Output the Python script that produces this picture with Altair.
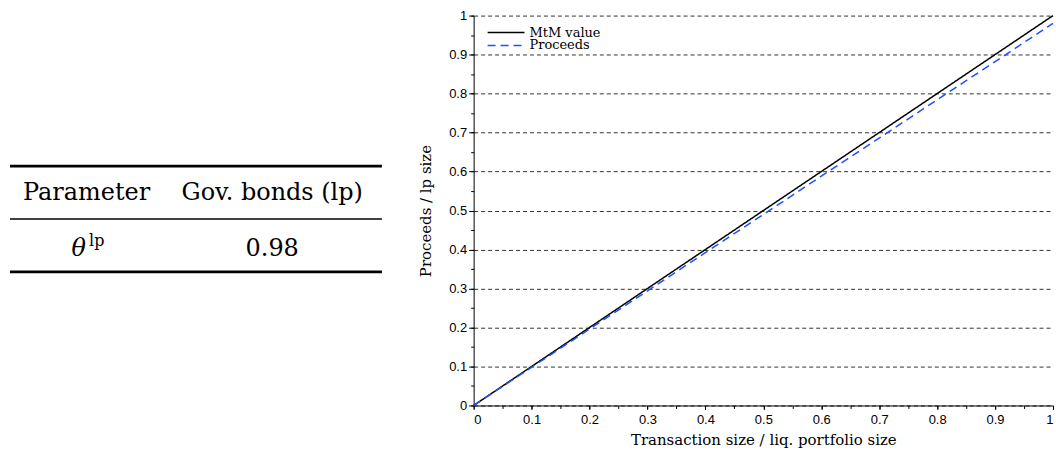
import altair as alt
import pandas as pd

# ---- data ----
x_vals = [0.0, 0.2, 0.4, 0.6, 0.8, 1.0]
mtm_vals = [0.0, 0.2, 0.4, 0.6, 0.8, 1.0]
proceeds_vals = [0.0, 0.196, 0.392, 0.588, 0.784, 0.98]
series_names = ["MtM value", "Proceeds"]

table_header = ["Parameter", "Gov. bonds (lp)"]
table_row = ["θ", "0.98"]
table_sup = "lp"

major_ticks = [round(i * 0.1, 2) for i in range(11)]
minor_ticks = [round(i * 0.05, 2) for i in range(21)]

rows = []
for xv, m, p in zip(x_vals, mtm_vals, proceeds_vals):
    rows.append({"x": xv, "y": m, "series": series_names[0]})
    rows.append({"x": xv, "y": p, "series": series_names[1]})
df = pd.DataFrame(rows)

# ---- table ----
cells = pd.DataFrame({
    "col": [0.206, 0.705, 0.185, 0.705],
    "row": [0.5, 0.5, 1.57, 1.57],
    "text": table_header + table_row,
})
rules = pd.DataFrame({"row": [0, 1, 2], "x0": [0, 0, 0], "x1": [1, 1, 1],
                      "w": [2.6, 1.5, 2.6]})

tx = alt.X("col:Q", scale=alt.Scale(domain=[0, 1]), axis=None)
ty_scale = alt.Scale(domain=[-2.849, 4.528], reverse=True)
ty = alt.Y("row:Q", scale=ty_scale, axis=None)

theta = alt.Chart(cells[cells["text"] == "θ"]).mark_text(
    font="DejaVu Serif", fontSize=24, fontStyle="italic", color="black"
).encode(x=tx, y=ty, text="text:N")
table_text = alt.Chart(cells[cells["text"] != "θ"]).mark_text(
    font="DejaVu Serif", fontSize=24, color="black"
).encode(x=tx, y=ty, text="text:N")
sup = alt.Chart(pd.DataFrame({"col": [0.185], "row": [1.57], "text": [table_sup]})).mark_text(
    font="DejaVu Serif", fontSize=16, color="black", dx=18, dy=-8
).encode(x=tx, y=ty, text="text:N")
table_rules = alt.Chart(rules).mark_rule(color="black").encode(
    x=alt.X("x0:Q", scale=alt.Scale(domain=[0, 1]), axis=None),
    x2="x1:Q",
    y=ty,
    strokeWidth=alt.StrokeWidth("w:Q", scale=None),
)
table = alt.layer(table_rules, table_text, theta, sup).properties(width=373, height=391)

# ---- line chart ----
xscale = alt.Scale(domain=[0, 1], nice=False)
yscale = alt.Scale(domain=[0, 1], nice=False)
lab = "datum.value == 0 ? '0' : datum.value == 1 ? '1' : format(datum.value, '.1f')"

lines = alt.Chart(df).mark_line(strokeWidth=1.5).encode(
    x=alt.X("x:Q", scale=xscale, axis=alt.Axis(
        values=major_ticks, title="Transaction size / liq. portfolio size",
        grid=False, tickSize=4, labelPadding=4, titlePadding=6, labelExpr=lab)),
    y=alt.Y("y:Q", scale=yscale, axis=alt.Axis(
        values=major_ticks, title="Proceeds / lp size",
        grid=True, gridDash=[4, 3], gridColor="#333333", gridWidth=1,
        tickSize=5, labelPadding=2, titlePadding=15, labelExpr=lab)),
    color=alt.Color("series:N", scale=alt.Scale(domain=series_names, range=["black", "#1f4fff"]),
                    legend=alt.Legend(title=None, orient="none", legendX=478, legendY=11,
                                      symbolType="stroke", symbolSize=1369, symbolStrokeWidth=1.5,
                                      labelFont="DejaVu Serif", labelFontSize=13,
                                      clipHeight=12, rowPadding=0, labelOffset=4)),
    strokeDash=alt.StrokeDash("series:N", scale=alt.Scale(domain=series_names, range=[[1, 0], [8, 5]]),
                              legend=None),
)

minor = alt.Chart(df).mark_point(opacity=0).encode(
    x=alt.X("x:Q", scale=xscale, axis=alt.Axis(values=minor_ticks, labels=False, title=None,
                                               grid=False, tickSize=3, domain=False, orient="bottom")),
    y=alt.Y("y:Q", scale=yscale, axis=alt.Axis(values=minor_ticks, labels=False, title=None,
                                               grid=False, tickSize=3, domain=False, orient="left")),
)

plot = alt.layer(lines, minor).resolve_axis(x="independent", y="independent").properties(
    width=581, height=391)

chart = alt.hconcat(table, plot, spacing=92, bounds="flush").properties(
    padding={"left": 8, "top": 9, "right": 0, "bottom": 0}
).configure_view(stroke=None).configure_axis(
    domainColor="black", tickColor="black", labelFont="Liberation Sans", labelFontSize=13,
    labelColor="black", titleFont="DejaVu Serif", titleFontSize=15, titleFontWeight="normal",
    titleColor="black"
)

chart.save("out.html", embed_options={"renderer": "svg", "actions": False})
